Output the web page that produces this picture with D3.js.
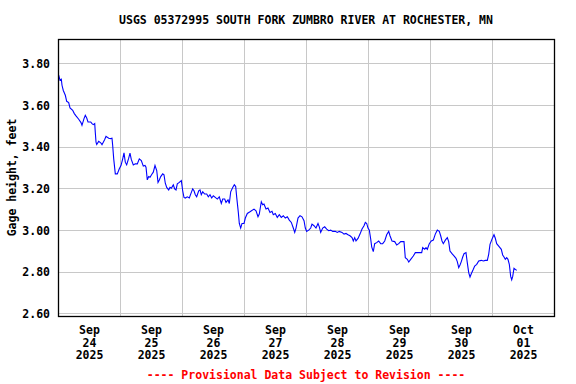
<!DOCTYPE html>
<html><head><meta charset="utf-8">
<script src="https://cdn.jsdelivr.net/npm/d3@7"></script>
<style>
html,body{margin:0;padding:0;background:#fff;}
text{font-family:"DejaVu Sans Mono","Liberation Mono",monospace;font-weight:bold;}
</style></head>
<body><svg id="c" width="576" height="384"></svg>
<script>
const title = "USGS 05372995 SOUTH FORK ZUMBRO RIVER AT ROCHESTER, MN";
const yLabel = "Gage height, feet";
const footer = "---- Provisional Data Subject to Revision ----";
const startDate = new Date(2025, 8, 24, 0, 0);
const endDate = new Date(2025, 9, 2, 0, 0);
const yTicks = [2.60, 2.80, 3.00, 3.20, 3.40, 3.60, 3.80];
const yDomain = [2.588, 3.917];
// hours since Sep 24 00:00
const hours = [0.27,0.77,1.28,1.55,2.05,2.83,3.37,4.14,4.65,5.69,6.31,6.97,8.01,8.90,9.29,10.06,10.57,11.11,11.61,12.66,13.16,13.66,14.21,14.44,14.71,14.98,15.75,16.53,17.03,18.08,18.58,19.63,20.40,20.90,21.17,21.56,22.18,22.95,23.73,24.39,25.05,25.55,26.05,26.59,27.37,27.87,28.37,29.15,29.92,30.70,31.47,32.25,33.02,33.68,34.06,34.57,35.11,35.61,36.27,36.89,37.55,38.21,38.71,39.21,39.76,40.53,41.03,41.54,42.08,42.85,43.35,43.86,44.63,45.17,45.68,46.18,46.96,47.73,48.27,48.77,49.28,50.05,50.83,51.37,52.14,52.65,53.15,53.69,54.47,54.97,55.47,56.01,56.79,57.56,58.18,58.84,59.50,60.12,60.89,61.67,62.44,63.21,63.76,64.53,65.03,65.81,66.31,66.85,67.63,68.25,68.79,69.18,69.80,70.18,70.72,71.23,72.00,72.51,73.28,74.32,75.87,76.65,77.42,77.92,78.70,79.24,79.74,80.52,81.29,82.07,82.84,83.34,84.12,84.89,85.66,86.44,87.21,87.99,88.76,89.54,90.31,91.08,91.63,92.13,92.90,93.68,94.45,95.23,95.73,96.27,97.05,97.82,98.32,99.10,99.87,100.65,101.15,101.69,102.47,103.24,104.02,104.79,105.57,106.34,107.34,108.12,108.89,109.94,110.71,111.48,112.26,113.03,113.81,114.31,114.85,115.35,116.13,116.90,117.68,118.45,118.96,119.50,120.00,120.51,121.05,121.43,122.05,122.59,123.36,124.14,124.91,125.69,126.46,127.24,128.01,128.52,129.29,130.34,131.11,131.89,132.66,133.94,134.44,135.21,135.76,136.53,137.54,138.31,139.47,140.79,141.18,141.95,142.45,142.96,143.73,144.50,145.28,146.05,146.83,147.60,148.14,148.65,149.15,149.93,150.70,151.24,151.74,152.52,153.29,154.07,154.57,155.11,155.61,156.12,156.66,157.16,157.94,158.44,158.98,159.48,159.99,160.76,161.30,162.08,162.85,163.86,164.63,165.41,166.18,166.72,167.23,168.00,168.77,169.28,169.82,170.83,171.60,172.14,172.65,173.15,173.69,174.19,174.70,175.24,175.63,176.02,176.52,177.03,177.57];
const gage = [3.744,3.720,3.724,3.695,3.670,3.647,3.618,3.612,3.586,3.575,3.559,3.548,3.532,3.516,3.503,3.535,3.551,3.538,3.519,3.519,3.511,3.506,3.511,3.470,3.422,3.411,3.426,3.419,3.410,3.435,3.450,3.441,3.439,3.441,3.406,3.342,3.270,3.270,3.294,3.310,3.342,3.371,3.326,3.313,3.345,3.369,3.339,3.313,3.318,3.318,3.342,3.334,3.307,3.310,3.302,3.241,3.257,3.254,3.267,3.278,3.310,3.286,3.229,3.241,3.257,3.270,3.265,3.225,3.205,3.193,3.205,3.201,3.217,3.198,3.193,3.222,3.229,3.238,3.189,3.157,3.154,3.160,3.154,3.173,3.198,3.189,3.170,3.160,3.189,3.193,3.170,3.184,3.173,3.173,3.160,3.170,3.154,3.165,3.157,3.149,3.160,3.128,3.149,3.149,3.133,3.145,3.128,3.184,3.205,3.218,3.209,3.157,3.085,3.032,3.010,3.032,3.032,3.058,3.080,3.088,3.101,3.093,3.064,3.077,3.136,3.122,3.125,3.101,3.106,3.085,3.090,3.074,3.080,3.061,3.074,3.061,3.069,3.058,3.064,3.048,3.037,3.010,2.989,3.010,3.058,3.069,3.064,3.045,3.010,2.994,3.000,3.010,3.029,3.021,3.010,3.032,3.016,2.989,3.010,3.016,3.005,2.997,3.000,2.994,2.994,2.989,2.994,2.989,2.981,2.984,2.978,2.973,2.964,2.948,2.964,2.948,2.960,2.981,3.005,3.021,3.037,3.032,3.010,3.000,2.957,2.920,2.897,2.935,2.940,2.948,2.935,2.935,2.948,2.978,2.994,2.973,2.948,2.945,2.929,2.935,2.945,2.945,2.868,2.860,2.847,2.860,2.876,2.892,2.892,2.892,2.916,2.908,2.916,2.908,2.935,2.948,2.952,2.981,3.000,2.994,2.973,2.948,2.935,2.952,2.964,2.945,2.900,2.887,2.876,2.865,2.849,2.820,2.833,2.849,2.871,2.887,2.892,2.844,2.796,2.775,2.791,2.812,2.828,2.836,2.852,2.855,2.852,2.855,2.855,2.884,2.932,2.957,2.978,2.961,2.935,2.920,2.908,2.881,2.871,2.860,2.868,2.860,2.836,2.778,2.762,2.778,2.817,2.812,2.807];

const svg = d3.select("#c");
const m = {l:58, r:554, t:39, b:316};
const x = d3.scaleTime().domain([startDate, endDate]).range([m.l, m.r]);
const y = d3.scaleLinear().domain(yDomain).range([m.b, m.t]);
const data = hours.map((h,i)=>({t:d3.timeMinute.offset(startDate, Math.round(h*60)), v:gage[i]}));

// grid
const days = d3.timeDay.range(d3.timeDay.offset(startDate,1), endDate);
svg.append("g").attr("transform",`translate(0,${m.b})`)
  .call(d3.axisBottom(x).tickValues(days).tickSize(-(m.b-m.t)).tickFormat(""))
  .call(g=>{g.select(".domain").remove(); g.selectAll("line").attr("stroke","#c8c8c8").attr("shape-rendering","crispEdges");});
svg.append("g").attr("transform",`translate(${m.l},0)`)
  .call(d3.axisLeft(y).tickValues(yTicks).tickSize(-(m.r-m.l)).tickFormat(d3.format(".2f")).tickPadding(8))
  .call(g=>{g.select(".domain").remove();
    g.selectAll("line").attr("stroke","#c8c8c8").attr("shape-rendering","crispEdges");
    g.selectAll("text").attr("font-size","11.5px").attr("fill","#000").attr("font-family","DejaVu Sans Mono").attr("font-weight","bold").attr("dy","0.36em");});

// line
svg.append("path").datum(data)
  .attr("fill","none").attr("stroke","#0000ff").attr("stroke-width",1.1)
  .attr("d", d3.line().x(d=>x(d.t)).y(d=>y(d.v)));

// frame
svg.append("rect").attr("x",m.l+0.5).attr("y",m.t+0.5).attr("width",m.r-m.l).attr("height",m.b-m.t)
  .attr("fill","none").attr("stroke","#000").attr("stroke-width",1.3);

// x labels
const noons = d3.timeDay.range(startDate, endDate).map(d=>d3.timeHour.offset(d,12));
const fmtM = d3.timeFormat("%b"), fmtD = d3.timeFormat("%d"), fmtY = d3.timeFormat("%Y");
const xl = svg.append("g").attr("transform",`translate(0,${m.b})`)
  .call(d3.axisBottom(x).tickValues(noons).tickSize(0).tickFormat(""));
xl.select(".domain").remove();
xl.selectAll(".tick").each(function(d){
  const t = d3.select(this).append("text").attr("fill","#000").attr("text-anchor","middle")
    .attr("font-size","11.5px").attr("font-family","DejaVu Sans Mono").attr("font-weight","bold");
  [fmtM(d), fmtD(d), fmtY(d)].forEach((s,i)=>t.append("tspan").attr("x",0).attr("y",18+i*12.7).text(s));
});

// title, y label, footer
svg.append("text").attr("x",(m.l+m.r)/2).attr("y",24).attr("text-anchor","middle")
  .attr("font-size","11.5px").text(title);
svg.append("text").attr("transform",`translate(16,${(m.t+m.b)/2}) rotate(-90)`).attr("text-anchor","middle")
  .attr("font-size","11.5px").text(yLabel);
svg.append("text").attr("x",(m.l+m.r)/2).attr("y",379).attr("text-anchor","middle")
  .attr("font-size","11.5px").attr("fill","#ff0000").text(footer);
</script></body></html>
